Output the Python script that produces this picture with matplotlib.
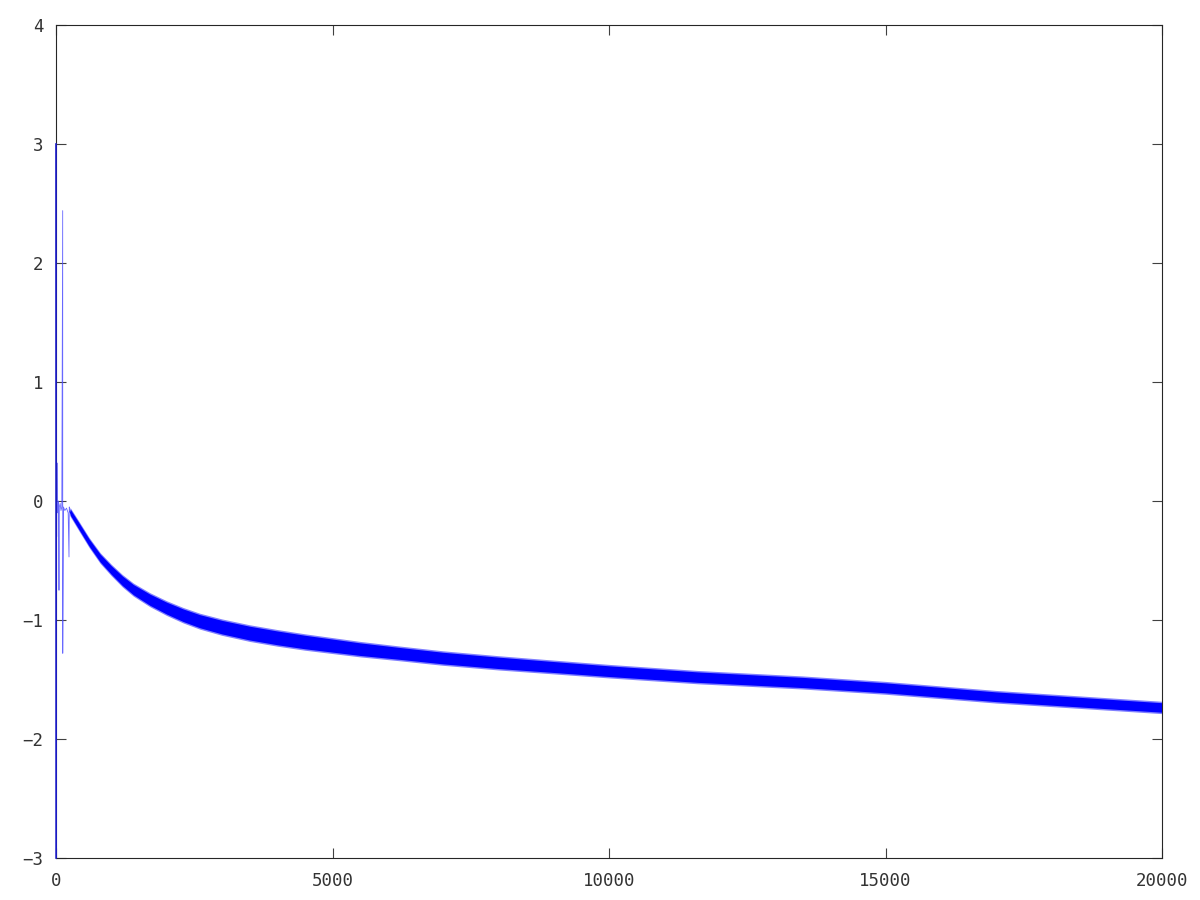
import matplotlib
matplotlib.use("Agg")
import matplotlib.pyplot as plt
import numpy as np

# Early transient (spikes)
x_early = [0, 2, 6, 12, 18, 25, 35, 45, 54, 60, 75, 90, 105, 121, 122, 135, 160, 190, 220, 235, 240, 253]
y_early = [3.0, -3.0, 0.1, -0.3, 0.32, -0.05, -0.1, 0.0, -0.75, -0.05, -0.02, -0.08, -0.05, 2.44, -1.28,
           -0.05, -0.08, -0.06, -0.1, -0.47, -0.05, -0.09]

# Centre of the noisy band
x_trend = [253, 400, 600, 800, 1000, 1200, 1400, 1700, 2000, 2300, 2600, 3000, 3500, 4000,
           4500, 5000, 5500, 6200, 7000, 8000, 9000, 10000, 11600, 13500, 15000, 17000, 20000]
y_trend = [-0.09, -0.20, -0.35, -0.48, -0.58, -0.67, -0.745, -0.83, -0.90, -0.96, -1.01, -1.06,
           -1.11, -1.15, -1.185, -1.215, -1.245, -1.28, -1.32, -1.36, -1.395, -1.43, -1.48,
           -1.525, -1.57, -1.645, -1.735]
# Half-width of the noise band
half_width = [0.025, 0.028, 0.03, 0.033, 0.036, 0.04, 0.043, 0.047, 0.05, 0.053, 0.055, 0.057,
              0.058, 0.058, 0.057, 0.055, 0.053, 0.05, 0.049, 0.048, 0.046, 0.045, 0.044,
              0.043, 0.042, 0.041, 0.04]

x_ticks = [0, 5000, 10000, 15000, 20000]
y_ticks = [-3, -2, -1, 0, 1, 2, 3, 4]

fig = plt.figure(figsize=(12, 9), dpi=100)
ax = fig.add_axes([56 / 1200, 42 / 900, 1106 / 1200, 833 / 900])

xt = np.array(x_trend)
yt = np.array(y_trend)
hw = np.array(half_width)
ax.fill_between(xt, yt - hw - 0.012, yt + hw + 0.012, color=(0.5, 0.5, 1.0), lw=0)
ax.fill_between(xt, yt - hw, yt + hw, color=(0, 0, 1.0), lw=0)
ax.plot(x_trend, y_trend, color=(0, 0, 1.0), lw=1.0)
ax.plot(x_early[:2], y_early[:2], color=(0.1, 0.1, 0.8), lw=1.2, clip_on=False, zorder=5)
ax.plot(x_early[1:], y_early[1:], color=(0.3, 0.3, 1.0), lw=0.6, alpha=0.85)

ax.set_xlim(0, 20000)
ax.set_ylim(-3, 4)
ax.set_xticks(x_ticks)
ax.set_yticks(y_ticks)
ax.set_xticklabels([str(v) for v in x_ticks])
ax.set_yticklabels([str(v) if v >= 0 else "\u2212" + str(-v) for v in y_ticks])

for s in ax.spines.values():
    s.set_color("#262626")
    s.set_linewidth(0.8)
ax.tick_params(direction="in", length=7, width=0.8, color="#404040",
               top=True, right=True, labelsize=12.5, labelcolor="#333333")
ax.tick_params(axis="y", pad=9)
ax.tick_params(axis="x", pad=10)
for lab in ax.get_xticklabels() + ax.get_yticklabels():
    lab.set_family("DejaVu Sans Mono")

fig.savefig("out.png", dpi=100)
